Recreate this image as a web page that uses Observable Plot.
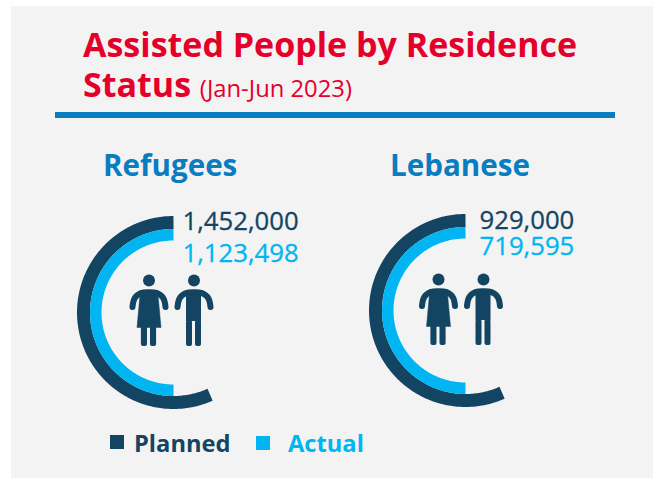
<!DOCTYPE html>
<html><head><meta charset="utf-8">
<script src="https://cdn.jsdelivr.net/npm/d3@7"></script>
<script src="https://cdn.jsdelivr.net/npm/@observablehq/plot@0.6"></script>
<style>
html,body{margin:0;padding:0;background:#fff;width:653px;height:478px;overflow:hidden;font-family:"Open Sans",sans-serif}
#panel{position:absolute;left:11px;top:6px;right:0;bottom:0;background:#f3f3f3}
.abs{position:absolute;white-space:nowrap}
#t1,#t2{color:#e4002b;font-weight:700;font-size:34px;line-height:40px;left:83px}
#t1{top:24px}#t2{top:64px}
#t2 span{font-weight:400;font-size:23.8px}
#rule{left:55px;top:112px;width:560px;height:6px;background:#0a7cc1}
.head{color:#0a7cc1;font-weight:700;font-size:29.6px;line-height:36px;top:147px}
.sw{width:14px;height:14px;top:435px}
.lg{font-weight:700;font-size:23.7px;line-height:30px;top:428px}
svg{position:absolute;background:transparent}
</style></head><body>
<div id="panel"></div>
<div class="abs" id="t1">Assisted People by Residence</div>
<div class="abs" id="t2">Status <span>(Jan-Jun 2023)</span></div>
<div class="abs" id="rule"></div>
<div class="abs head" style="left:103px">Refugees</div>
<div class="abs head" style="left:390px">Lebanese</div>
<div id="charts"></div>
<div class="abs sw" style="left:110px;background:#134563"></div>
<div class="abs lg" style="left:134px;color:#134563">Planned</div>
<div class="abs sw" style="left:256px;top:436px;background:#00b5f1"></div>
<div class="abs lg" style="left:288px;color:#00b5f1">Actual</div>
<script>
const groups = ["Refugees", "Lebanese"];
const planned = [1452000, 929000];
const actual = [1123498, 719595];
const plannedSweep = [204, 204];
const actualSweep = [180, 180];
const colors = {planned: "#134563", actual: "#00b5f1"};
const placement = [
  {cx: 172.5, cy: 312, tx: 9, ty1: -91, ty2: -59, woman: -24.5, man: 20.5, head: -32},
  {cx: 465, cy: 310.2, tx: 14, ty1: -90, ty2: -64, woman: -27, man: 18, head: -31}
];
const W = 300, H = 220, L = 110, T = 110;
const arc = (r, sweep) => d3.range(0, sweep + 0.5, 1).concat(sweep).map(a => {
  const t = a * Math.PI / 180;
  return {x: -r * Math.sin(t), y: -r * Math.cos(t)};
});
const archW = [[-16.5,26.5],[-14.5,18],[-8,12.6],[0,11.8],[8,12.6],[14.5,18],[16.5,26.5]];
const dress = [[-8.6,10],[8.6,10],[12,47],[-12,47]];
const legsW = [[-7.6,-1.5,46,66],[1.5,7.6,46,66]];
const legsM = [[-7.5,-1.5,40,66],[1.5,7.5,40,66]];
const fmt = d3.format(",");
groups.forEach((g, i) => {
  const p = placement[i];
  const at = (pts, dx) => pts.map(([x, y]) => ({x: x + dx, y: y + p.head}));
  const rects = (rs, dx) => rs.map(([a, b, c, d]) => ({x1: a + dx, x2: b + dx, y1: c + p.head, y2: d + p.head}));
  const ink = colors.planned;
  const chart = Plot.plot({
    width: W, height: H, margin: 0,
    x: {domain: [-L, W - L], range: [0, W], axis: null},
    y: {domain: [-T, H - T], range: [0, H], axis: null},
    marks: [
      Plot.line(arc(90, plannedSweep[i]), {x: "x", y: "y", stroke: colors.planned, strokeWidth: 13, strokeLinecap: "butt", strokeLinejoin: "round"}),
      Plot.line(arc(77.75, actualSweep[i]), {x: "x", y: "y", stroke: colors.actual, strokeWidth: 11.5, strokeLinecap: "butt", strokeLinejoin: "round"}),
      Plot.dot([p.woman, p.man], {x: d => d, y: () => p.head, r: 6, fill: ink}),
      Plot.line(at(archW, p.woman), {x: "x", y: "y", stroke: ink, strokeWidth: 6, strokeLinecap: "round", curve: "natural"}),
      Plot.line(at(archW, p.man), {x: "x", y: "y", stroke: ink, strokeWidth: 6, strokeLinecap: "round", curve: "natural"}),
      Plot.line(at(dress.concat([dress[0]]), p.woman), {x: "x", y: "y", fill: ink, stroke: ink, strokeWidth: 0.5}),
      Plot.rect(rects(legsW, p.woman), {x1: "x1", x2: "x2", y1: "y1", y2: "y2", fill: ink, r: 2}),
      Plot.rect(rects([[-7.5,7.5,11,41]], p.man), {x1: "x1", x2: "x2", y1: "y1", y2: "y2", fill: ink}),
      Plot.rect(rects(legsM, p.man), {x1: "x1", x2: "x2", y1: "y1", y2: "y2", fill: ink, r: 2}),
      Plot.text([planned[i]], {x: () => p.tx, y: () => p.ty1, text: d => fmt(d), textAnchor: "start", fill: colors.planned, fontSize: 25.7, fontFamily: "Open Sans", stroke: colors.planned, strokeWidth: 0.3}),
      Plot.text([actual[i]], {x: () => p.tx, y: () => p.ty2, text: d => fmt(d), textAnchor: "start", fill: colors.actual, fontSize: 25.7, fontFamily: "Open Sans", stroke: colors.actual, strokeWidth: 0.3})
    ]
  });
  chart.style.left = (p.cx - L) + "px";
  chart.style.top = (p.cy - T) + "px";
  chart.setAttribute("aria-label", g);
  document.getElementById("charts").appendChild(chart);
});
</script>
</body></html>
